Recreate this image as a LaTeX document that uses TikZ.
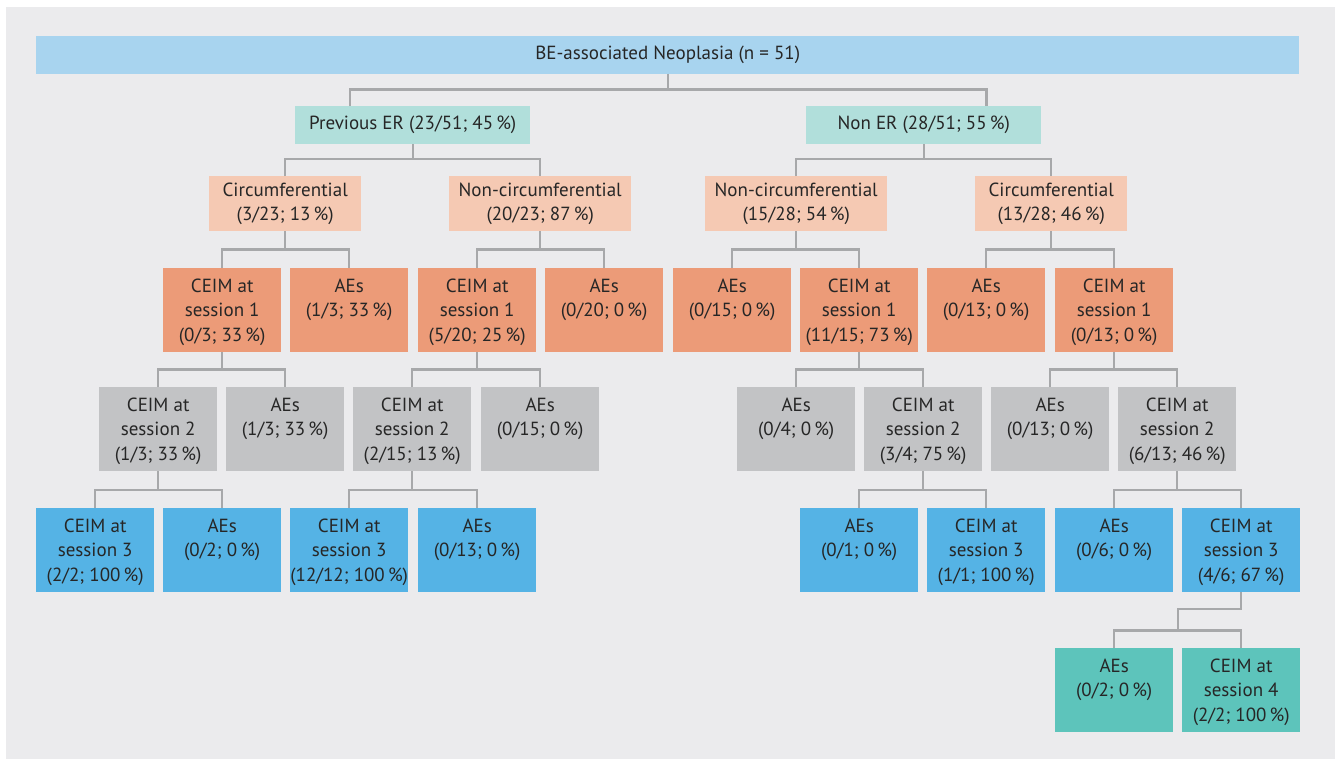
\documentclass[tikz,border=0pt]{standalone}
\usepackage{fontspec}
\setmainfont{PT Sans}
\usetikzlibrary{calc}
\definecolor{panel}{HTML}{EBEBED}
\definecolor{cbar}{HTML}{A8D4EF}
\definecolor{cone}{HTML}{B1DFDB}
\definecolor{ctwo}{HTML}{F5C9B3}
\definecolor{cthree}{HTML}{EC9B78}
\definecolor{cfour}{HTML}{C2C3C5}
\definecolor{cfive}{HTML}{55B3E5}
\definecolor{csix}{HTML}{5DC4BB}
\definecolor{cline}{HTML}{A7A8AA}
\definecolor{ctext}{HTML}{262626}
\tikzset{
  boxbase/.style={rectangle, inner sep=0pt, anchor=north west, text=ctext,
    font=\fontsize{19bp}{23.5bp}\selectfont, align=center},
  bigbox/.style={boxbase, minimum width=118bp, minimum height=84bp},
  midbox/.style={boxbase, minimum height=55bp},
  txt/.style={anchor=north, inner sep=0pt, text=ctext, align=center,
    font=\fontsize{19bp}{24.5bp}\selectfont},
  conn/.style={draw=cline, line width=2.2bp}
}
\begin{document}
\begin{tikzpicture}[x=1bp,y=-1bp]
\useasboundingbox (0,0) rectangle (1335,759);
\fill[white] (0,0) rectangle (1335,759);
\fill[panel] (6,7) rectangle (1335,759);
% level 0
\node[boxbase, fill=cbar, minimum width=1263bp, minimum height=37.5bp] (top) at (36,36) {BE-associated Neoplasia (n = 51)};
% level 1
\node[boxbase, fill=cone, minimum width=235bp, minimum height=38bp] (per) at (295,106) {Previous ER (23/51; 45\,\%)};
\node[boxbase, fill=cone, minimum width=235bp, minimum height=38bp] (ner) at (806,106) {Non ER (28/51; 55\,\%)};
% level 2
\node[midbox, fill=ctwo, minimum width=152bp] (c1) at (209,176) {Circumferential\\(3/23; 13\,\%)};
\node[midbox, fill=ctwo, minimum width=182bp] (nc1) at (449,176) {Non-circumferential\\(20/23; 87\,\%)};
\node[midbox, fill=ctwo, minimum width=182bp] (nc2) at (705,176) {Non-circumferential\\(15/28; 54\,\%)};
\node[midbox, fill=ctwo, minimum width=152bp] (c2) at (975,176) {Circumferential\\(13/28; 46\,\%)};
% level 3
\node[bigbox, fill=cthree] (a1) at (163,268) {};
\node[bigbox, fill=cthree] (a2) at (290,268) {};
\node[bigbox, fill=cthree] (a3) at (418,268) {};
\node[bigbox, fill=cthree] (a4) at (545,268) {};
\node[bigbox, fill=cthree] (a5) at (673,268) {};
\node[bigbox, fill=cthree] (a6) at (800,268) {};
\node[bigbox, fill=cthree] (a7) at (927,268) {};
\node[bigbox, fill=cthree] (a8) at (1055,268) {};
\node[txt] (ta1) at ([yshift=-10.5bp]a1.north) {CEIM at\\session 1\\(0/3; 33\,\%)};
\node[txt] (ta2) at ([yshift=-10.5bp]a2.north) {AEs\\(1/3; 33\,\%)};
\node[txt] (ta3) at ([yshift=-10.5bp]a3.north) {CEIM at\\session 1\\(5/20; 25\,\%)};
\node[txt] (ta4) at ([yshift=-10.5bp]a4.north) {AEs\\(0/20; 0\,\%)};
\node[txt] (ta5) at ([yshift=-10.5bp]a5.north) {AEs\\(0/15; 0\,\%)};
\node[txt] (ta6) at ([yshift=-10.5bp]a6.north) {CEIM at\\session 1\\(11/15; 73\,\%)};
\node[txt] (ta7) at ([yshift=-10.5bp]a7.north) {AEs\\(0/13; 0\,\%)};
\node[txt] (ta8) at ([yshift=-10.5bp]a8.north) {CEIM at\\session 1\\(0/13; 0\,\%)};
% level 4
\node[bigbox, fill=cfour] (b1) at (99,387) {};
\node[bigbox, fill=cfour] (b2) at (226,387) {};
\node[bigbox, fill=cfour] (b3) at (353,387) {};
\node[bigbox, fill=cfour] (b4) at (481,387) {};
\node[bigbox, fill=cfour] (b5) at (737,387) {};
\node[bigbox, fill=cfour] (b6) at (864,387) {};
\node[bigbox, fill=cfour] (b7) at (991,387) {};
\node[bigbox, fill=cfour] (b8) at (1118,387) {};
\node[txt] (tb1) at ([yshift=-10.5bp]b1.north) {CEIM at\\session 2\\(1/3; 33\,\%)};
\node[txt] (tb2) at ([yshift=-10.5bp]b2.north) {AEs\\(1/3; 33\,\%)};
\node[txt] (tb3) at ([yshift=-10.5bp]b3.north) {CEIM at\\session 2\\(2/15; 13\,\%)};
\node[txt] (tb4) at ([yshift=-10.5bp]b4.north) {AEs\\(0/15; 0\,\%)};
\node[txt] (tb5) at ([yshift=-10.5bp]b5.north) {AEs\\(0/4; 0\,\%)};
\node[txt] (tb6) at ([yshift=-10.5bp]b6.north) {CEIM at\\session 2\\(3/4; 75\,\%)};
\node[txt] (tb7) at ([yshift=-10.5bp]b7.north) {AEs\\(0/13; 0\,\%)};
\node[txt] (tb8) at ([yshift=-10.5bp]b8.north) {CEIM at\\session 2\\(6/13; 46\,\%)};
% level 5
\node[bigbox, fill=cfive] (d1) at (36,508) {};
\node[bigbox, fill=cfive] (d2) at (163,508) {};
\node[bigbox, fill=cfive] (d3) at (290,508) {};
\node[bigbox, fill=cfive] (d4) at (418,508) {};
\node[bigbox, fill=cfive] (d5) at (800,508) {};
\node[bigbox, fill=cfive] (d6) at (927,508) {};
\node[bigbox, fill=cfive] (d7) at (1055,508) {};
\node[bigbox, fill=cfive] (d8) at (1182,508) {};
\node[txt] (td1) at ([yshift=-10.5bp]d1.north) {CEIM at\\session 3\\(2/2; 100\,\%)};
\node[txt] (td2) at ([yshift=-10.5bp]d2.north) {AEs\\(0/2; 0\,\%)};
\node[txt] (td3) at ([yshift=-10.5bp]d3.north) {CEIM at\\session 3\\(12/12; 100\,\%)};
\node[txt] (td4) at ([yshift=-10.5bp]d4.north) {AEs\\(0/13; 0\,\%)};
\node[txt] (td5) at ([yshift=-10.5bp]d5.north) {AEs\\(0/1; 0\,\%)};
\node[txt] (td6) at ([yshift=-10.5bp]d6.north) {CEIM at\\session 3\\(1/1; 100\,\%)};
\node[txt] (td7) at ([yshift=-10.5bp]d7.north) {AEs\\(0/6; 0\,\%)};
\node[txt] (td8) at ([yshift=-10.5bp]d8.north) {CEIM at\\session 3\\(4/6; 67\,\%)};
% level 6
\node[bigbox, fill=csix] (e1) at (1055,648) {};
\node[bigbox, fill=csix] (e2) at (1182,648) {};
\node[txt] (te1) at ([yshift=-10.5bp]e1.north) {AEs\\(0/2; 0\,\%)};
\node[txt] (te2) at ([yshift=-10.5bp]e2.north) {CEIM at\\session 4\\(2/2; 100\,\%)};
% connector levels
\coordinate (h0) at (0,89.5);
\coordinate (h1) at (0,159);
\coordinate (h2) at (0,249.5);
\coordinate (h3) at (0,369.5);
\coordinate (h4) at (0,490);
\coordinate (h5a) at (0,609);
\coordinate (h5b) at (0,630.5);
% connectors
\draw[conn] (top.south) -- (top.south |- h0);
\draw[conn] ([xshift=55bp]per.north west) |- (top.south |- h0) -| ([xshift=-55bp]ner.north east);
\draw[conn] (per.south) -- (per.south |- h1);
\draw[conn] (c1.north) |- (per.south |- h1) -| (nc1.north);
\draw[conn] (ner.south) -- (ner.south |- h1);
\draw[conn] (nc2.north) |- (ner.south |- h1) -| (c2.north);
\draw[conn] (c1.south) -- (c1.south |- h2);
\draw[conn] (a1.north) |- (c1.south |- h2) -| (a2.north);
\draw[conn] (nc1.south) -- (nc1.south |- h2);
\draw[conn] (a3.north) |- (nc1.south |- h2) -| (a4.north);
\draw[conn] (nc2.south) -- (nc2.south |- h2);
\draw[conn] (a5.north) |- (nc2.south |- h2) -| (a6.north);
\draw[conn] (c2.south) -- (c2.south |- h2);
\draw[conn] (a7.north) |- (c2.south |- h2) -| (a8.north);
\draw[conn] (a1.south) -- (a1.south |- h3);
\draw[conn] (b1.north) |- (a1.south |- h3) -| (b2.north);
\draw[conn] (a3.south) -- (a3.south |- h3);
\draw[conn] (b3.north) |- (a3.south |- h3) -| (b4.north);
\draw[conn] (a6.south) -- (a6.south |- h3);
\draw[conn] (b5.north) |- (a6.south |- h3) -| (b6.north);
\draw[conn] (a8.south) -- (a8.south |- h3);
\draw[conn] (b7.north) |- (a8.south |- h3) -| (b8.north);
\draw[conn] (b1.south) -- (b1.south |- h4);
\draw[conn] (d1.north) |- (b1.south |- h4) -| (d2.north);
\draw[conn] (b3.south) -- (b3.south |- h4);
\draw[conn] (d3.north) |- (b3.south |- h4) -| (d4.north);
\draw[conn] (b6.south) -- (b6.south |- h4);
\draw[conn] (d5.north) |- (b6.south |- h4) -| (d6.north);
\draw[conn] (b8.south) -- (b8.south |- h4);
\draw[conn] (d7.north) |- (b8.south |- h4) -| (d8.north);
\coordinate (m6) at ($(e1.north)!0.5!(e2.north)$);
\draw[conn] (d8.south) |- (m6 |- h5a) -- (m6 |- h5b);
\draw[conn] (e1.north) |- (m6 |- h5b) -| (e2.north);
\end{tikzpicture}
\end{document}
